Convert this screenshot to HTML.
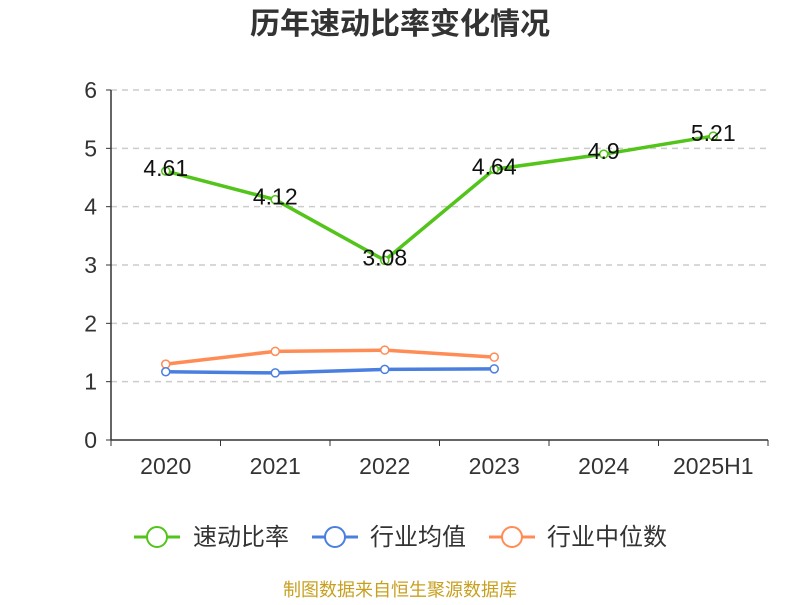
<!DOCTYPE html>
<html><head><meta charset="utf-8"><style>
body{margin:0;background:#fff;}
svg text{font-family:"Liberation Sans","Noto Sans CJK SC",sans-serif;}
</style></head><body>
<svg id="chart" width="800" height="600">
<text x="400" y="34" text-anchor="middle" font-size="30" font-weight="bold" fill="#333">历年速动比率变化情况</text>
<g id="grid"></g><g id="axes"></g><g id="series"></g>
<g>
<g><line x1="134" y1="537" x2="180" y2="537" stroke="#52c41a" stroke-width="3"/><circle cx="157" cy="537" r="10" fill="#fff" stroke="#52c41a" stroke-width="2"/><text x="193" y="545" font-size="24" fill="#333">速动比率</text></g>
<g><line x1="312" y1="537" x2="358" y2="537" stroke="#4a7fe0" stroke-width="3"/><circle cx="335" cy="537" r="10" fill="#fff" stroke="#4a7fe0" stroke-width="2"/><text x="370" y="545" font-size="24" fill="#333">行业均值</text></g>
<g><line x1="489" y1="537" x2="535" y2="537" stroke="#ff8c55" stroke-width="3"/><circle cx="512" cy="537" r="10" fill="#fff" stroke="#ff8c55" stroke-width="2"/><text x="547" y="545" font-size="24" fill="#333">行业中位数</text></g>
</g>
<text x="400" y="596" text-anchor="middle" font-size="18" fill="#c8a020">制图数据来自恒生聚源数据库</text>
</svg>
<script>
const categories=["2020","2021","2022","2023","2024","2025H1"];
const quickRatio=[4.61,4.12,3.08,4.64,4.9,5.21];
const industryAvg=[1.17,1.15,1.21,1.22];
const industryMedian=[1.30,1.52,1.54,1.42];
const yTicks=[0,1,2,3,4,5,6];
const NS="http://www.w3.org/2000/svg";
const x0=111,x1=768,y0=440,y1=90,yMax=6;
const bw=(x1-x0)/categories.length;
const xs=i=>x0+bw*(i+0.5);
const ys=v=>y0-(v/yMax)*(y0-y1);
function mk(t,a,p){const e=document.createElementNS(NS,t);for(const k in a)e.setAttribute(k,a[k]);p.appendChild(e);return e;}
const grid=document.getElementById('grid'),axes=document.getElementById('axes'),ser=document.getElementById('series');
yTicks.forEach(t=>{
 if(t>0){const g=mk('line',{x1:x0,x2:x1,y1:ys(t),y2:ys(t),stroke:'#ccc','stroke-dasharray':'6,5','stroke-width':1.5},grid);
 
 }
 const tk=mk('line',{x1:x0-5,x2:x0,y1:ys(t),y2:ys(t),stroke:'#333'},axes);
 
 
 const l=mk('text',{x:x0-14,y:ys(t)+8,'text-anchor':'end','font-size':23,fill:'#333'},axes);l.textContent=t;
 
 
});
const ya=mk('line',{x1:x0,x2:x0,y1:y1,y2:y0,stroke:'#333','stroke-width':1.5},axes);


const xa=mk('line',{x1:x0,x2:x1,y1:y0,y2:y0,stroke:'#333','stroke-width':1.5},axes);


for(let i=0;i<=categories.length;i++){const t=mk('line',{x1:x0+bw*i,x2:x0+bw*i,y1:y0,y2:y0+6,stroke:'#333'},axes);
 
 }
categories.forEach((c,i)=>{const l=mk('text',{x:xs(i),y:y0+34,'text-anchor':'middle','font-size':23,fill:'#333'},axes);l.textContent=c;
 
 });
function series(vals,color,name,labels){
 const g=mk('g',{},ser);
 
 
 const pl=mk('polyline',{points:vals.map((v,i)=>xs(i)+','+ys(v)).join(' '),fill:'none',stroke:color,'stroke-width':3.5},g);
 
 
 vals.forEach((v,i)=>{const c=mk('circle',{cx:xs(i),cy:ys(v),r:4,fill:'#fff',stroke:color,'stroke-width':1.5},g);
  
  
  if(labels){const t=mk('text',{x:xs(i),y:ys(v)+5,'text-anchor':'middle','font-size':23,fill:'#111'},g);t.textContent=v;
  
  }
 });
}
series(industryMedian,'#ff8c55','industry-median-series',false);
series(industryAvg,'#4a7fe0','industry-avg-series',false);
series(quickRatio,'#52c41a','quick-ratio-series',true);
</script>
</body></html>
